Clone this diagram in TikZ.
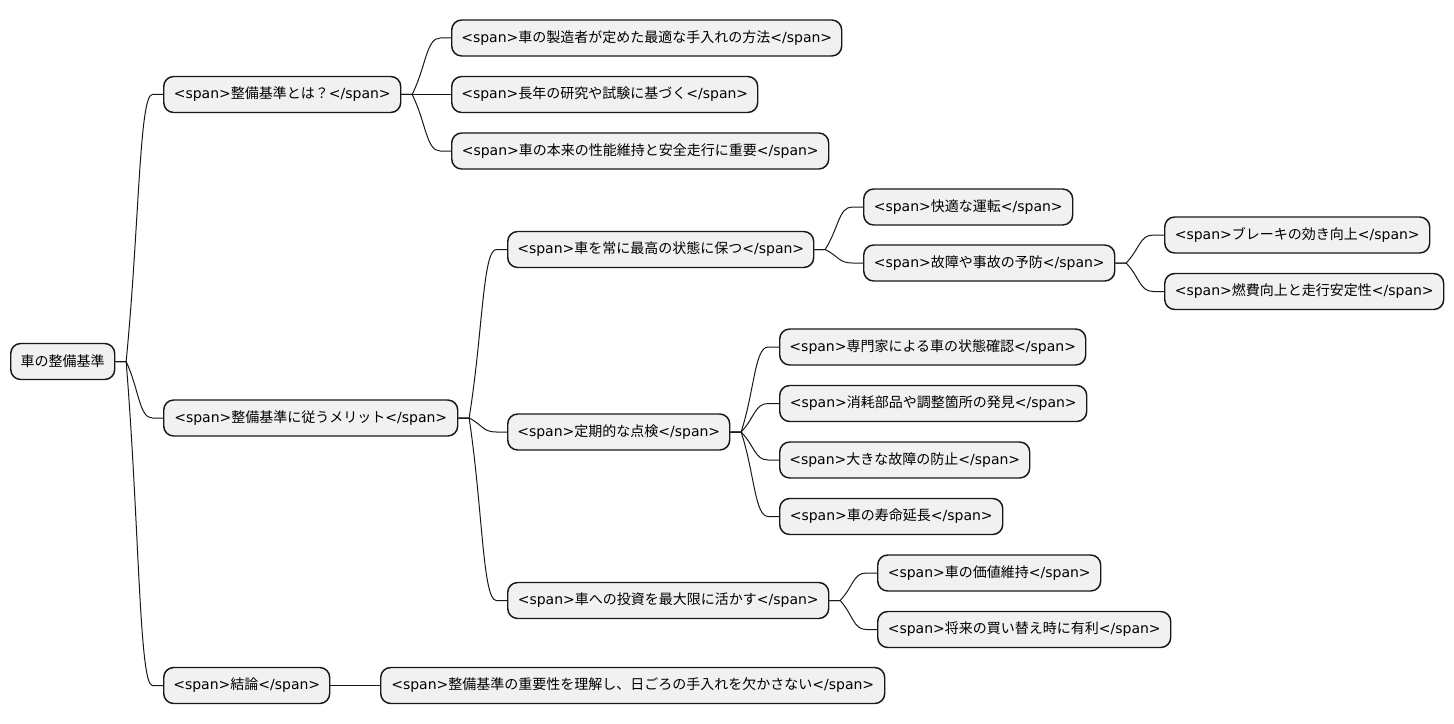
\documentclass[tikz,border=0pt]{standalone}
\usepackage{fontspec}
\setmainfont{DejaVu Sans}
\newfontfamily\jp{Noto Sans CJK JP}
\usetikzlibrary{calc}

\definecolor{boxfill}{HTML}{F1F1F1}
\definecolor{ink}{HTML}{181818}

\newcommand\spantag[1]{<span>{\jp #1}</span>}

\begin{document}
\begin{tikzpicture}[x=0.75pt, y=-0.75pt,
	idea/.style={draw=ink, fill=boxfill, line width=1.1pt, rounded corners=7.5pt,
		anchor=west, minimum height=27pt, inner xsep=2pt,
		minimum width=#1*0.75pt, font=\fontsize{10.5}{12}\selectfont},
	branch/.style={draw=ink, line width=0.75pt}]

	% ---- parameters

	\def\stub{8pt}

	\useasboundingbox (0,0) rectangle (1454,724);

	% ---- root

	\node[idea=104] (root) at (10,361.5) {{\jp 車の整備基準}};

	% ---- first level

	\node[idea=237] (A) at (163,94.5) {\spantag{整備基準とは？}};
	\node[idea=294] (B) at (163,418) {\spantag{整備基準に従うメリット}};
	\node[idea=166] (C) at (163,685.5) {\spantag{結論}};

	% ---- what the standard is

	\node[idea=390] (A1) at (451,38) {\spantag{車の製造者が定めた最適な手入れの方法}};
	\node[idea=306] (A2) at (451,94.5) {\spantag{長年の研究や試験に基づく}};
	\node[idea=377] (A3) at (451,151) {\spantag{車の本来の性能維持と安全走行に重要}};

	% ---- merits

	\node[idea=306] (B1) at (507,249.5) {\spantag{車を常に最高の状態に保つ}};
	\node[idea=222] (B2) at (507,432) {\spantag{定期的な点検}};
	\node[idea=321] (B3) at (507,600.5) {\spantag{車への投資を最大限に活かす}};

	\node[idea=209] (B1a) at (863,207) {\spantag{快適な運転}};
	\node[idea=251] (B1b) at (863,263) {\spantag{故障や事故の予防}};

	\node[idea=265] (B1b1) at (1164,235) {\spantag{ブレーキの効き向上}};
	\node[idea=279] (B1b2) at (1164,291.5) {\spantag{燃費向上と走行安定性}};

	\node[idea=306] (B2a) at (779,347) {\spantag{専門家による車の状態確認}};
	\node[idea=307] (B2b) at (779,403.5) {\spantag{消耗部品や調整箇所の発見}};
	\node[idea=250] (B2c) at (779,460) {\spantag{大きな故障の防止}};
	\node[idea=223] (B2d) at (779,516.5) {\spantag{車の寿命延長}};

	\node[idea=223] (B3a) at (877,573) {\spantag{車の価値維持}};
	\node[idea=293] (B3b) at (877,629.5) {\spantag{将来の買い替え時に有利}};

	% ---- conclusion

	\node[idea=504] (C1) at (380,685.5) {\spantag{整備基準の重要性を理解し、日ごろの手入れを欠かさない}};

	% ---- branches

	\foreach \a/\b in {root/A, root/B, root/C, A/A1, A/A2, A/A3,
		B/B1, B/B2, B/B3, B1/B1a, B1/B1b, B1b/B1b1, B1b/B1b2,
		B2/B2a, B2/B2b, B2/B2c, B2/B2d, B3/B3a, B3/B3b, C/C1} {
		\draw[branch] let \p1=(\a.east), \p2=(\b.west) in
			(\p1) -- ({\x1+\stub},\y1)
			.. controls ({(\x1+\x2)/2},{(\y1+\y2)/2}) and ({(\x1+\x2)/2},\y2) ..
			({\x2-\stub},\y2) -- (\p2);
	}

\end{tikzpicture}
\end{document}
